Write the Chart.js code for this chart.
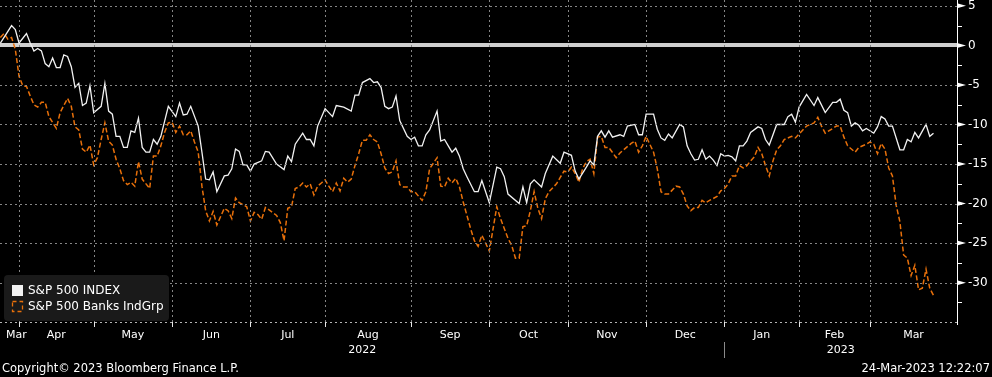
<!DOCTYPE html>
<html>
<head>
<meta charset="utf-8">
<script src="https://cdn.jsdelivr.net/npm/chart.js@4.4.1/dist/chart.umd.min.js"></script>
<style>
  html, body { margin: 0; padding: 0; background: #000; }
  #chart { display: block; }
</style>
</head>
<body>
<canvas id="chart" width="992" height="377"></canvas>
<script>
// x = trading day index, 0 = 25-Mar-2022 ; y = % change
const spx = [
  [0,0.3],[3,2.5],[4,2.0],[5,0.3],[7,1.5],[8,0.3],[9,-0.7],[10,-0.4],[11,-0.7],[12,-2.3],[13,-2.7],[14,-1.6],
  [15,-2.8],[16,-2.8],[17,-1.2],[18,-1.4],[19,-2.7],[20,-5.3],[21,-4.8],[22,-7.6],[23,-7.3],[24,-5.1],[25,-8.5],
  [27,-7.7],[28,-4.8],[29,-8.3],[30,-8.7],[31,-11.5],[32,-11.5],[33,-12.9],[34,-12.9],[35,-10.8],[36,-11.0],
  [37,-9.2],[38,-12.9],[39,-13.5],[40,-13.5],[41,-11.9],[42,-12.5],[43,-11.5],[45,-7.7],[47,-9.0],[48,-7.3],
  [49,-8.8],[50,-8.7],[51,-7.7],[53,-10.2],[54,-13.5],[55,-16.9],[56,-17.0],[57,-16.0],[58,-18.5],[60,-16.5],
  [61,-16.4],[62,-15.6],[63,-13.1],[64,-13.4],[65,-15.1],[66,-15.1],[67,-15.9],[68,-15.0],[70,-14.6],[71,-13.4],
  [72,-13.5],[74,-15.0],[76,-15.7],[77,-14.0],[78,-14.7],[79,-12.5],[81,-11.1],[82,-11.9],[83,-11.9],[84,-12.7],
  [85,-10.2],[87,-8.0],[88,-8.5],[89,-9.0],[90,-7.6],[92,-7.8],[94,-8.3],[95,-6.3],[96,-6.3],[97,-4.7],[99,-4.2],
  [100,-4.7],[101,-4.6],[102,-5.3],[103,-7.7],[104,-8.0],[105,-7.8],[106,-6.4],[107,-9.5],[109,-11.5],[110,-11.9],
  [111,-11.6],[112,-12.7],[113,-12.7],[114,-11.3],[115,-10.7],[117,-8.3],[118,-12.1],[119,-11.9],[120,-12.7],
  [121,-13.5],[122,-13.0],[123,-14.0],[124,-15.6],[125,-16.6],[127,-18.5],[128,-18.5],[129,-17.1],[131,-19.9],
  [133,-15.4],[134,-15.6],[135,-16.6],[136,-18.8],[139,-20.0],[140,-17.9],[141,-19.9],[142,-17.5],[143,-17.0],
  [145,-17.9],[146,-16.2],[148,-14.0],[150,-14.9],[151,-13.5],[153,-13.9],[154,-15.9],[155,-16.9],[157,-15.4],
  [158,-14.6],[159,-15.1],[160,-11.5],[161,-10.8],[162,-11.6],[163,-10.8],[164,-11.6],[166,-11.3],[167,-11.5],
  [168,-10.2],[170,-10.0],[171,-11.3],[172,-11.3],[173,-8.7],[175,-8.7],[176,-10.6],[177,-11.7],[178,-12.0],
  [179,-11.2],[180,-11.7],[182,-10.0],[183,-10.3],[184,-12.7],[185,-13.7],[186,-14.5],[187,-14.4],[188,-13.2],
  [189,-14.4],[190,-14.0],[191,-14.5],[192,-15.2],[193,-13.7],[194,-14.0],[195,-13.9],[196,-14.1],[197,-14.6],
  [198,-12.7],[199,-12.7],[200,-12.1],[201,-11.0],[203,-10.3],[204,-10.5],[205,-11.9],[206,-12.6],[208,-10.0],
  [210,-10.0],[211,-9.0],[212,-8.7],[213,-9.7],[214,-7.8],[216,-6.2],[218,-7.6],[219,-6.6],[221,-8.5],[223,-7.2],
  [224,-7.2],[225,-6.8],[226,-8.2],[227,-8.5],[228,-10.2],[229,-9.8],[230,-10.1],[231,-10.8],[232,-10.5],
  [234,-11.1],[235,-10.3],[236,-9.0],[237,-9.3],[238,-10.2],[239,-10.2],[241,-13.2],[242,-13.2],[243,-11.9],
  [244,-12.2],[245,-11.0],[246,-11.7],[248,-10.0],[249,-11.5],[250,-11.1]
]

const banks = [
  [0,1.0],[1,1.5],[2,0.8],[3,1.0],[4,-0.5],[5,-3.9],[6,-5.1],[7,-5.2],[8,-6.4],[9,-7.5],[10,-7.8],[11,-7.2],
  [12,-7.2],[13,-9.0],[15,-10.5],[16,-8.5],[18,-6.7],[19,-7.7],[20,-10.3],[21,-10.7],[22,-13.1],[23,-13.5],
  [24,-12.6],[25,-15.1],[26,-14.2],[27,-11.9],[28,-9.8],[29,-12.1],[30,-12.6],[31,-14.4],[32,-15.6],[33,-17.1],
  [34,-17.6],[35,-17.3],[36,-17.8],[37,-14.7],[38,-16.9],[40,-18.1],[41,-14.0],[42,-14.0],[43,-12.7],[44,-11.0],
  [45,-9.8],[46,-9.7],[47,-11.0],[48,-10.2],[49,-11.3],[50,-11.3],[51,-10.8],[52,-12.2],[53,-13.5],[54,-17.8],
  [55,-20.9],[56,-22.2],[57,-21.0],[58,-22.7],[60,-20.6],[61,-20.9],[62,-21.9],[63,-19.3],[64,-19.9],[66,-20.4],
  [67,-22.2],[68,-21.1],[69,-21.4],[70,-22.0],[71,-20.5],[72,-20.8],[74,-21.5],[75,-22.4],[76,-24.7],[77,-20.6],
  [78,-20.4],[79,-18.1],[80,-17.9],[81,-17.4],[82,-17.9],[83,-17.5],[84,-18.9],[85,-17.8],[86,-17.4],[87,-17.0],
  [88,-17.8],[89,-18.5],[90,-17.4],[91,-18.4],[92,-16.8],[93,-17.3],[94,-16.9],[95,-15.2],[96,-13.7],[97,-12.0],
  [98,-12.0],[99,-11.3],[100,-11.9],[101,-12.2],[102,-13.7],[103,-15.5],[104,-16.2],[105,-16.0],[106,-14.6],
  [107,-17.6],[108,-17.9],[109,-17.9],[110,-18.5],[111,-18.5],[113,-19.6],[114,-18.5],[115,-15.6],[117,-14.2],
  [118,-17.8],[119,-17.9],[120,-16.8],[121,-17.4],[122,-16.8],[123,-17.9],[124,-19.8],[126,-23.2],[127,-24.7],
  [128,-25.4],[129,-24.0],[131,-26.0],[133,-20.4],[134,-21.9],[136,-24.4],[137,-25.3],[138,-26.9],[139,-26.9],
  [140,-22.9],[141,-22.8],[142,-20.9],[143,-18.5],[144,-20.6],[145,-21.9],[146,-19.4],[147,-18.5],[149,-17.5],
  [150,-16.7],[151,-15.9],[152,-16.0],[153,-15.4],[154,-16.2],[155,-17.3],[156,-15.6],[157,-14.7],[158,-14.4],
  [159,-16.2],[160,-11.6],[161,-11.5],[162,-12.9],[163,-12.9],[165,-14.2],[166,-13.6],[167,-13.2],[169,-12.4],
  [170,-12.1],[171,-13.5],[172,-12.7],[173,-11.5],[174,-12.5],[175,-13.5],[176,-15.6],[177,-18.5],[178,-18.8],
  [179,-18.8],[181,-17.8],[182,-17.9],[183,-18.8],[184,-20.3],[185,-20.9],[186,-20.5],[187,-20.5],[188,-19.6],
  [189,-19.9],[190,-19.6],[192,-19.1],[193,-18.4],[194,-18.1],[195,-17.5],[196,-16.5],[197,-16.5],[198,-15.2],
  [199,-15.5],[200,-15.2],[201,-14.6],[202,-14.1],[203,-12.9],[204,-13.7],[205,-15.2],[206,-16.5],[207,-14.6],
  [208,-13.2],[209,-12.7],[210,-11.9],[212,-11.5],[213,-11.7],[215,-10.7],[216,-10.2],[218,-9.8],[219,-9.1],
  [220,-10.2],[221,-11.1],[223,-10.5],[224,-10.2],[225,-10.2],[226,-11.6],[227,-12.7],[229,-13.5],[230,-12.9],
  [232,-12.5],[233,-12.2],[234,-12.5],[235,-13.7],[236,-12.4],[237,-13.1],[238,-15.5],[239,-16.5],[240,-20.2],
  [241,-22.3],[242,-26.5],[243,-26.9],[244,-29.1],[245,-27.8],[246,-30.9],[247,-30.7],[248,-28.3],[249,-30.7],
  [250,-31.6]
]

const monthLabels = ['Mar','Apr','May','Jun','Jul','Aug','Sep','Oct','Nov','Dec','Jan','Feb','Mar']
// trading day index of the first session of each month (Apr-22 .. Mar-23)
const monthStarts = [5,25,46,67,87,110,131,152,173,194,214,233]
const yearLabels = ['2022','2023']
const yMajor = [5,0,-5,-10,-15,-20,-25,-30]
const yMinor = [2.5,-2.5,-7.5,-12.5,-17.5,-22.5,-27.5,-32.5]

const seriesNames = ['S&P 500 INDEX', 'S&P 500 Banks IndGrp']
const copyright = 'Copyright\u00A9 2023 Bloomberg Finance L.P.'
const stamp = '24-Mar-2023 12:22:07'

const xMin = -0.1, xMax = 256.3
const yMin = -35.1, yMax = 5.74

const FONT = '"DejaVu Sans", Verdana, sans-serif'
const WHITE = '#f2f2f2'
const ORANGE = '#e8700a'
const GRID = '#858585'

const edges = [xMin, ...monthStarts, xMax]
const monthMids = monthLabels.map((_, i) => (edges[i] + edges[i + 1]) / 2)
monthMids[0] = edges[1] - 0.7   // first label kept clear of the left edge
const yearBreak = monthStarts[9]
const yearMids = [(xMin + yearBreak) / 2, (yearBreak + xMax) / 2]
const yTicks = [...yMajor, ...yMinor].sort((a, b) => a - b)

// dotted lines as 2px dots every 5px
function dotsV(ctx, x, y1, y2) {
  for (let y = y1; y < y2; y += 5) ctx.fillRect(x, y, 1, 2)
}
function dotsH(ctx, y, x1, x2) {
  for (let x = x1; x < x2; x += 5) ctx.fillRect(x, y, 2, 1)
}

// zero line under the series
const zeroLine = {
  id: 'zeroLine',
  beforeDatasetsDraw(chart) {
    const { ctx, chartArea: a, scales: { y } } = chart
    ctx.save()
    ctx.fillStyle = '#d0d0d0'
    ctx.fillRect(a.left, Math.round(y.getPixelForValue(0)) - 2, a.right - a.left, 4)
    ctx.restore()
  }
}

// grid, axes, flags, legend and footer
const bloombergDecor = {
  id: 'bloombergDecor',
  afterDraw(chart) {
    const { ctx, chartArea: a, scales: { x, y } } = chart
    const px = v => Math.round(x.getPixelForValue(v))
    const py = v => Math.round(y.getPixelForValue(v))
    const top = Math.round(a.top), bottom = Math.round(a.bottom), right = Math.round(a.right)
    ctx.save()

    ctx.fillStyle = GRID
    monthStarts.forEach(v => dotsV(ctx, px(v), top, bottom))
    yMajor.filter(v => v !== 0).forEach(v => dotsH(ctx, py(v), a.left, right))
    ctx.fillStyle = '#b4b4b4'
    dotsH(ctx, bottom - 1, a.left, right)

    ctx.fillStyle = '#e6e6e6'
    monthStarts.forEach(v => ctx.fillRect(px(v), bottom - 1, 1, 5))

    ctx.fillStyle = '#fff'
    ctx.fillRect(right, top, 1, bottom - top + 2)
    yTicks.forEach(v => ctx.fillRect(right, py(v), 5, 1))
    yMajor.forEach(v => {
      const yy = y.getPixelForValue(v)
      ctx.beginPath()
      ctx.moveTo(right, yy - 2.5)
      ctx.lineTo(right + 9, yy)
      ctx.lineTo(right, yy + 2.5)
      ctx.closePath()
      ctx.fill()
    })

    // year separator
    ctx.fillStyle = '#8a8a8a'
    ctx.fillRect(px(yearBreak), 342, 1, 16)

    // legend box
    ctx.fillStyle = '#1a1a1a'
    ctx.beginPath()
    ctx.roundRect(4, 275, 165, 46, 4)
    ctx.fill()

    ctx.fillStyle = WHITE
    ctx.fillRect(12, 285, 11, 11)
    ctx.strokeStyle = ORANGE
    ctx.lineWidth = 1.3
    ctx.setLineDash([4, 3])
    ctx.strokeRect(12.5, 301.5, 10, 10)
    ctx.setLineDash([])

    ctx.font = '12px ' + FONT
    ctx.textBaseline = 'middle'
    ctx.textAlign = 'left'
    ctx.fillStyle = '#fff'
    ctx.fillText(chart.data.datasets[0].label, 28, 291)
    ctx.fillText(chart.data.datasets[1].label, 28, 306.5)

    // footer
    ctx.font = '11.5px ' + FONT
    ctx.fillText(copyright, 2, 369)
    ctx.textAlign = 'right'
    ctx.fillText(stamp, 990, 369)

    ctx.restore()
  }
}

new Chart(document.getElementById('chart'), {
  type: 'line',
  data: {
    datasets: [
      {
        label: seriesNames[0],
        data: spx.map(([x, y]) => ({ x, y })),
        borderColor: WHITE,
        borderWidth: 1.3,
        pointRadius: 0,
        tension: 0
      },
      {
        label: seriesNames[1],
        data: banks.map(([x, y]) => ({ x, y })),
        borderColor: ORANGE,
        borderWidth: 1.5,
        borderDash: [5, 2.5],
        pointRadius: 0,
        tension: 0
      }
    ]
  },
  options: {
    responsive: false,
    animation: false,
    devicePixelRatio: 1,
    layout: { autoPadding: false, padding: { left: 0, top: 0, right: 0, bottom: 17 } },
    plugins: {
      legend: { display: false },
      tooltip: { enabled: false }
    },
    scales: {
      x: {
        type: 'linear',
        position: 'bottom',
        weight: 0,
        min: xMin,
        max: xMax,
        afterBuildTicks: s => { s.ticks = monthStarts.map(v => ({ value: v })) },
        afterFit: s => { s.height = 5; s.paddingLeft = 0; s.paddingRight = 0 },
        ticks: { display: false },
        grid: { display: false },
        border: { display: false }
      },
      x2: {
        type: 'linear',
        position: 'bottom',
        weight: 1,
        min: xMin,
        max: xMax,
        afterBuildTicks: s => { s.ticks = monthMids.map(v => ({ value: v })) },
        afterFit: s => { s.height = 16; s.paddingLeft = 0; s.paddingRight = 0 },
        ticks: {
          autoSkip: false, maxRotation: 0, padding: 1, color: '#fff',
          font: { family: FONT, size: 11 },
          callback: (v, i) => monthLabels[i]
        },
        grid: { display: false, drawTicks: false },
        border: { display: false }
      },
      x3: {
        type: 'linear',
        position: 'bottom',
        weight: 2,
        min: xMin,
        max: xMax,
        afterBuildTicks: s => { s.ticks = yearMids.map(v => ({ value: v })) },
        afterFit: s => { s.height = 16; s.paddingLeft = 0; s.paddingRight = 0 },
        ticks: {
          autoSkip: false, maxRotation: 0, padding: 0, color: '#fff',
          font: { family: FONT, size: 11 },
          callback: (v, i) => yearLabels[i]
        },
        grid: { display: false, drawTicks: false },
        border: { display: false }
      },
      y: {
        type: 'linear',
        position: 'right',
        min: yMin,
        max: yMax,
        afterBuildTicks: s => { s.ticks = yTicks.map(v => ({ value: v })) },
        afterFit: s => { s.width = 35; s.paddingTop = 0; s.paddingBottom = 0 },
        ticks: {
          autoSkip: false, padding: 6, color: '#fff',
          font: { family: FONT, size: 12 },
          callback: v => yMajor.includes(v) ? String(v) : ''
        },
        grid: { display: false, drawTicks: true, tickLength: 5 },
        border: { display: false }
      }
    }
  },
  plugins: [zeroLine, bloombergDecor]
})
</script>
</body>
</html>
